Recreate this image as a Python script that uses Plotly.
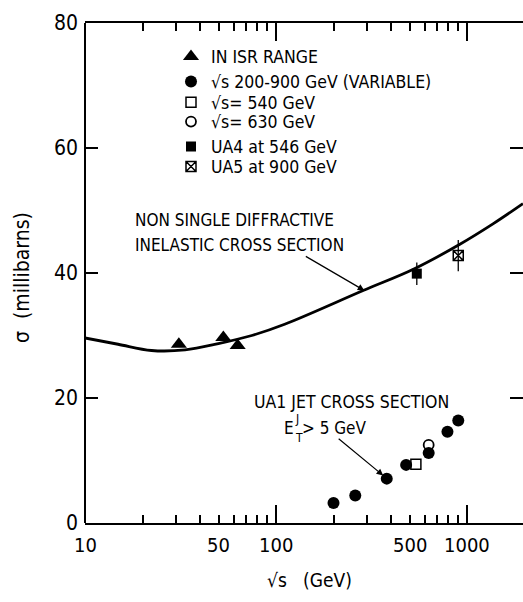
import math
import plotly.graph_objects as go

FONT = "DejaVu Sans Condensed, Liberation Sans Narrow, sans-serif"

# ---- data ----
curve_x = [10, 14.9, 22.3, 33.4, 49.9, 74.7, 111, 286, 524, 918, 1374, 1963]
curve_y = [29.6, 28.6, 27.6, 27.7, 28.7, 30.0, 31.8, 37.2, 40.6, 44.6, 47.9, 51.1]

isr_x = [31, 53, 63]
isr_y = [28.6, 29.7, 28.4]

jet_x = [200, 260, 380, 480, 630, 790, 900]
jet_y = [3.2, 4.4, 7.1, 9.3, 11.2, 14.6, 16.4]

sq540_x = [540]
sq540_y = [9.4]
c630_x = [630]
c630_y = [12.5]

ua4_x = [546]
ua4_y = [39.9]
ua4_err = [1.8]

ua5_x = [900]
ua5_y = [42.8]
ua5_err = [2.5]

x_ticks = [10, 50, 100, 500, 1000]
x_ticktext = ["10", "50", "100", "500", "1000"]
x_minor = [20, 30, 40, 50, 60, 70, 80, 90, 200, 300, 400, 500, 600, 700, 800, 900]
y_ticks = [0, 20, 40, 60, 80]

legend_names = [
    "IN ISR RANGE",
    "√s 200-900 GeV (VARIABLE)",
    "√s= 540 GeV",
    "√s= 630 GeV",
    "UA4 at 546 GeV",
    "UA5 at 900 GeV",
]

# ---- layout geometry helpers (pixels -> paper) ----
L, R, T, B = 85, 0, 23, 79
W, H = 523, 602
PW, PH = W - L - R, H - T - B


def px(xp):
    return (xp - L) / PW


def py(yp):
    return (H - B - yp) / PH


fig = go.Figure()

fig.add_trace(go.Scatter(x=curve_x, y=curve_y, mode="lines",
                         line=dict(color="black", width=2.8, shape="spline", smoothing=1.0),
                         showlegend=False, hoverinfo="skip"))

lg = ["legend", "legend2", "legend3", "legend4", "legend5", "legend6"]

fig.add_trace(go.Scatter(x=isr_x, y=isr_y, mode="markers", name=legend_names[0], legend=lg[0],
                         marker=dict(symbol="triangle-up", size=14, color="black")))
fig.add_trace(go.Scatter(x=jet_x, y=jet_y, mode="markers", name=legend_names[1], legend=lg[1],
                         marker=dict(symbol="circle", size=12, color="black")))
fig.add_trace(go.Scatter(x=sq540_x, y=sq540_y, mode="markers", name=legend_names[2], legend=lg[2],
                         marker=dict(symbol="square-open", size=10, color="black",
                                     line=dict(width=1.5, color="black"))))
fig.add_trace(go.Scatter(x=c630_x, y=c630_y, mode="markers", name=legend_names[3], legend=lg[3],
                         marker=dict(symbol="circle-open", size=10, color="black",
                                     line=dict(width=1.8, color="black"))))
fig.add_trace(go.Scatter(x=ua4_x, y=ua4_y, mode="markers", name=legend_names[4], legend=lg[4],
                         error_y=dict(type="data", array=ua4_err, width=0, thickness=1.3, color="black"),
                         marker=dict(symbol="square", size=10, color="black")))
fig.add_trace(go.Scatter(x=ua5_x, y=ua5_y, mode="markers", name=legend_names[5], legend=lg[5],
                         error_y=dict(type="data", array=ua5_err, width=0, thickness=1.3, color="black"),
                         marker=dict(symbol="square-x-open", size=10, color="black",
                                     line=dict(width=1.5, color="black"))))

legend_rows = [56.7, 81.7, 102.3, 121.7, 146.7, 166.7]
legend_x = px(171)
for name, row in zip(lg, legend_rows):
    fig.layout[name] = dict(x=legend_x, y=py(row), xanchor="left", yanchor="middle",
                            bgcolor="rgba(0,0,0,0)", borderwidth=0,
                            font=dict(family=FONT, size=17.5, color="black"))

annotations = []
for v, t in zip(x_ticks, x_ticktext):
    annotations.append(dict(x=math.log10(v), xref="x", y=py(545), yref="paper",
                            text=t, showarrow=False, xanchor="center", yanchor="middle",
                            font=dict(family=FONT, size=20, color="black")))

txt = dict(family=FONT, size=17, color="black")
small = dict(family=FONT, size=12, color="black")
annotations += [
    dict(x=px(133), y=py(220), xref="paper", yref="paper", text="NON SINGLE DIFFRACTIVE",
         showarrow=False, xanchor="left", yanchor="middle", font=txt),
    dict(x=px(133), y=py(245), xref="paper", yref="paper", text="INELASTIC CROSS SECTION",
         showarrow=False, xanchor="left", yanchor="middle", font=txt),
    dict(x=px(252), y=py(402), xref="paper", yref="paper", text="UA1 JET CROSS SECTION",
         showarrow=False, xanchor="left", yanchor="middle", font=dict(family=FONT, size=17.5, color="black")),
    dict(x=px(282), y=py(428), xref="paper", yref="paper", text="E",
         showarrow=False, xanchor="left", yanchor="middle", font=txt),
    dict(x=px(293), y=py(419), xref="paper", yref="paper", text="J",
         showarrow=False, xanchor="left", yanchor="middle", font=small),
    dict(x=px(293), y=py(438), xref="paper", yref="paper", text="T",
         showarrow=False, xanchor="left", yanchor="middle", font=small),
    dict(x=px(300), y=py(428), xref="paper", yref="paper", text="> 5 GeV",
         showarrow=False, xanchor="left", yanchor="middle", font=txt),
    # arrows
    dict(x=math.log10(290), y=37.2, xref="x", yref="y", ax=-60, ay=-35, axref="pixel", ayref="pixel",
         showarrow=True, arrowhead=2, arrowsize=1.1, arrowwidth=1.2, arrowcolor="black", text=""),
    dict(x=math.log10(364), y=7.6, xref="x", yref="y", ax=-46, ay=-38, axref="pixel", ayref="pixel",
         showarrow=True, arrowhead=2, arrowsize=1.1, arrowwidth=1.2, arrowcolor="black", text=""),
    # axis titles
    dict(x=px(22), y=py(278), xref="paper", yref="paper", text="σ  (millibarns)", textangle=-90,
         showarrow=False, xanchor="center", yanchor="middle", font=dict(family=FONT, size=21, color="black")),
    dict(x=px(309), y=py(580), xref="paper", yref="paper", text="√s   (GeV)",
         showarrow=False, xanchor="center", yanchor="middle", font=dict(family=FONT, size=19, color="black")),
]

fig.update_layout(
    width=W, height=H,
    margin=dict(l=L, r=R, t=T, b=B, pad=0),
    paper_bgcolor="white", plot_bgcolor="white",
    font=dict(family=FONT, color="black"),
    annotations=annotations,
    shapes=[dict(type="line", xref="paper", yref="paper", x0=0, x1=0, y0=0, y1=1,
                 line=dict(color="black", width=2))],
    xaxis=dict(type="log", range=[1, 1 + PW / 191.0], showgrid=False, zeroline=False,
               showline=True, linecolor="black", linewidth=2, mirror="ticks",
               ticks="inside", tickvals=[10, 100, 1000], ticklen=18, tickwidth=1.5,
               tickcolor="black", showticklabels=False,
               minor=dict(ticks="inside", tickvals=x_minor, ticklen=8, tickwidth=1.5,
                          tickcolor="black", showgrid=False)),
    yaxis=dict(range=[0, 80], showgrid=False, zeroline=False, showline=False, mirror="ticks",
               ticks="inside", tickvals=y_ticks, ticklen=13, tickwidth=1.5, tickcolor="black",
               tickfont=dict(family=FONT, size=21, color="black"), ticklabelstandoff=6),
)

fig.write_html("out.html")
